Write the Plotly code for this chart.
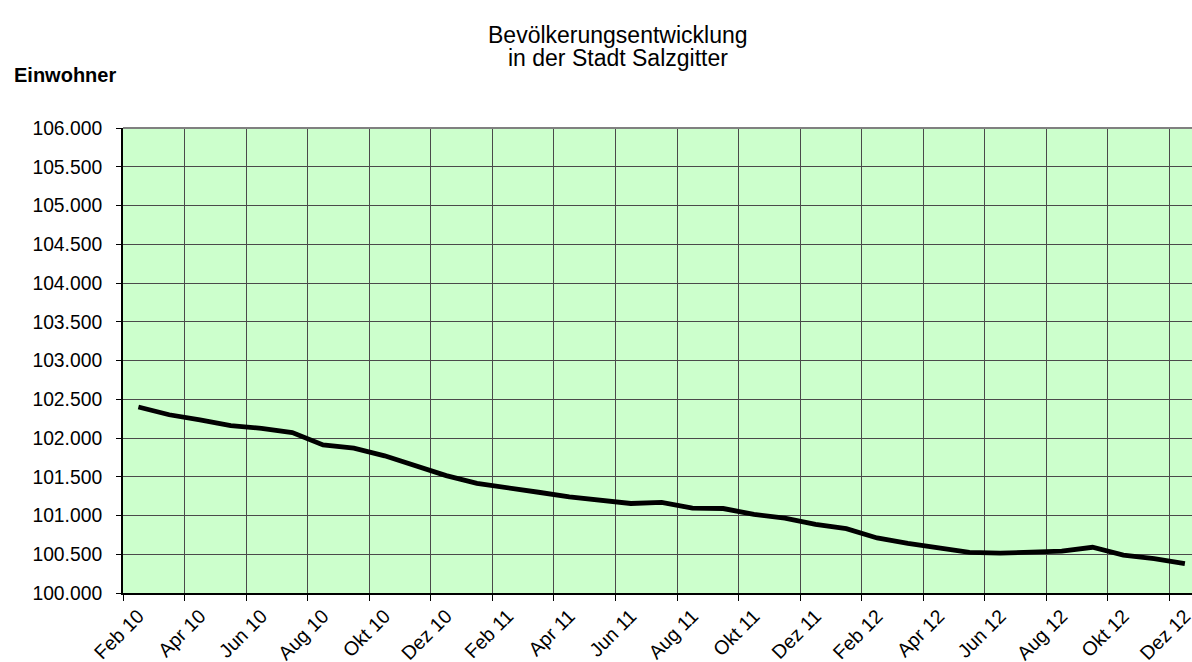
import plotly.graph_objects as go

months = ["Feb 10", "Mrz 10", "Apr 10", "Mai 10", "Jun 10", "Jul 10", "Aug 10", "Sep 10", "Okt 10", "Nov 10", "Dez 10",
          "Jan 11", "Feb 11", "Mrz 11", "Apr 11", "Mai 11", "Jun 11", "Jul 11", "Aug 11", "Sep 11", "Okt 11", "Nov 11", "Dez 11",
          "Jan 12", "Feb 12", "Mrz 12", "Apr 12", "Mai 12", "Jun 12", "Jul 12", "Aug 12", "Sep 12", "Okt 12", "Nov 12", "Dez 12"]

einwohner = [102400, 102300, 102235, 102160, 102125, 102070, 101910, 101870, 101770, 101640, 101515,
             101415, 101365, 101300, 101240, 101200, 101155, 101170, 101095, 101090, 101015, 100965, 100885,
             100830, 100710, 100640, 100575, 100525, 100515, 100535, 100540, 100590, 100490, 100445, 100380]

y_ticks = list(range(100000, 106001, 500))

title_lines = ["Bevölkerungsentwicklung", "in der Stadt Salzgitter"]

idx = list(range(len(months)))
label_idx = idx[::2]
label_text = [months[i] for i in label_idx]

W, H = 1192, 662
ml, mt, mb, mr = 122.5, 127.5, 68.5, 0
pw, ph = W - ml - mr, H - mt - mb
cat_w = (1169.5 - 122.5) / 34
x_max = -0.5 + pw / cat_w

fig = go.Figure()
fig.add_trace(go.Scatter(
    x=idx, y=einwohner, mode="lines",
    line=dict(color="#000000", width=4.8),
    hoverinfo="skip", showlegend=False,
))

font_family = "Liberation Sans, Arial, sans-serif"

def py(px):
    return (H - mb - px) / ph

def pxx(px):
    return (px - ml) / pw

annotations = [
    dict(text=title_lines[0], xref="paper", yref="paper", x=pxx(618), xanchor="center",
         y=py(34), yanchor="middle", showarrow=False,
         font=dict(family=font_family, size=23, color="#000000")),
    dict(text=title_lines[1], xref="paper", yref="paper", x=pxx(618), xanchor="center",
         y=py(57), yanchor="middle", showarrow=False,
         font=dict(family=font_family, size=23, color="#000000")),
    dict(text="<b>Einwohner</b>", xref="paper", yref="paper",
         x=pxx(11), xanchor="left", y=py(74), yanchor="middle",
         showarrow=False, font=dict(family=font_family, size=20, color="#000000")),
]

fig.update_layout(
    width=W, height=H,
    margin=dict(l=ml, r=mr, t=mt, b=mb, pad=0, autoexpand=False),
    paper_bgcolor="#FFFFFF",
    plot_bgcolor="#CCFFCC",
    separators=",.",
    font=dict(family=font_family, size=19, color="#000000"),
    xaxis=dict(
        range=[-0.5, x_max], automargin=False,
        tickmode="array", tickvals=label_idx, ticktext=label_text,
        tickangle=-45, ticks="", showgrid=False, zeroline=False,
        showline=True, linecolor="#000000", linewidth=2,
        ticklabeloverflow="allow", ticklabelstandoff=2,
        tickfont=dict(family=font_family, size=19.5, color="#000000"),
        minor=dict(tick0=-0.5, dtick=2, showgrid=True, gridcolor="#4a4a4a", gridwidth=1,
                   ticks="outside", ticklen=6, tickcolor="#000000", tickwidth=1),
    ),
    yaxis=dict(
        range=[100000, 106000], automargin=False,
        tickmode="array", tickvals=y_ticks, tickformat=",.0f",
        showgrid=True, gridcolor="#4a4a4a", gridwidth=1, zeroline=False,
        showline=True, linecolor="#000000", linewidth=2,
        ticks="outside", ticklen=5, tickcolor="#000000", tickwidth=1,
        ticklabelstandoff=10,
        tickfont=dict(family=font_family, size=19.3, color="#000000"),
    ),
    shapes=[dict(type="line", xref="paper", yref="paper", x0=0, x1=1, y0=1, y1=1,
                 line=dict(color="#808080", width=2))],
    annotations=annotations,
)

fig.write_html("out.html", config={"displayModeBar": False},
               post_script="document.body.style.margin='0px';document.body.style.overflow='hidden';")
